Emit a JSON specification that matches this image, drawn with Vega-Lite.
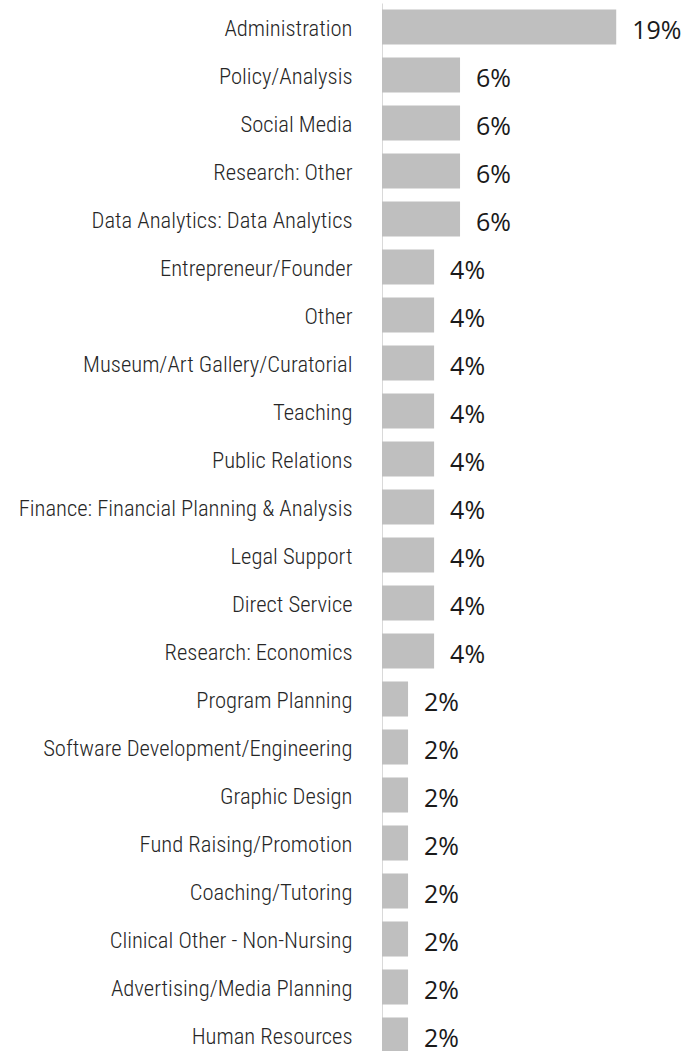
{
  "$schema": "https://vega.github.io/schema/vega-lite/v6.json",
  "autosize": "none",
  "padding": {"left": 382, "top": 3, "right": 0, "bottom": 0},
  "width": 318,
  "height": 1056,
  "background": "white",
  "data": {
    "values": [
      {"role": "Administration", "pct": 19.15, "label": "19%"},
      {"role": "Policy/Analysis", "pct": 6.38, "label": "6%"},
      {"role": "Social Media", "pct": 6.38, "label": "6%"},
      {"role": "Research: Other", "pct": 6.38, "label": "6%"},
      {"role": "Data Analytics: Data Analytics", "pct": 6.38, "label": "6%"},
      {"role": "Entrepreneur/Founder", "pct": 4.26, "label": "4%"},
      {"role": "Other", "pct": 4.26, "label": "4%"},
      {"role": "Museum/Art Gallery/Curatorial", "pct": 4.26, "label": "4%"},
      {"role": "Teaching", "pct": 4.26, "label": "4%"},
      {"role": "Public Relations", "pct": 4.26, "label": "4%"},
      {"role": "Finance: Financial Planning & Analysis", "pct": 4.26, "label": "4%"},
      {"role": "Legal Support", "pct": 4.26, "label": "4%"},
      {"role": "Direct Service", "pct": 4.26, "label": "4%"},
      {"role": "Research: Economics", "pct": 4.26, "label": "4%"},
      {"role": "Program Planning", "pct": 2.13, "label": "2%"},
      {"role": "Software Development/Engineering", "pct": 2.13, "label": "2%"},
      {"role": "Graphic Design", "pct": 2.13, "label": "2%"},
      {"role": "Fund Raising/Promotion", "pct": 2.13, "label": "2%"},
      {"role": "Coaching/Tutoring", "pct": 2.13, "label": "2%"},
      {"role": "Clinical Other - Non-Nursing", "pct": 2.13, "label": "2%"},
      {"role": "Advertising/Media Planning", "pct": 2.13, "label": "2%"},
      {"role": "Human Resources", "pct": 2.13, "label": "2%"}
    ]
  },
  "encoding": {
    "y": {
      "field": "role",
      "type": "nominal",
      "sort": null,
      "scale": {"paddingInner": 0.27, "paddingOuter": 0.135},
      "axis": {
        "title": null,
        "ticks": false,
        "domainColor": "#d9d9d9",
        "domainWidth": 1,
        "labelFont": "Roboto Condensed, DejaVu Sans Condensed, sans-serif",
        "labelFontSize": 22.6,
        "labelFontWeight": 300,
        "labelColor": "#262626",
        "labelPadding": 30,
        "labelBaseline": "alphabetic",
        "labelOffset": 9,
        "labelLimit": 400,
        "grid": false
      }
    },
    "x": {
      "field": "pct",
      "type": "quantitative",
      "scale": {"domain": [0, 26], "nice": false},
      "axis": null
    }
  },
  "layer": [
    {"mark": {"type": "bar", "color": "#bfbfbf"}},
    {
      "mark": {
        "type": "text",
        "align": "left",
        "baseline": "alphabetic",
        "dx": 16,
        "dy": 12,
        "font": "Open Sans",
        "fontSize": 25,
        "color": "#1a1a1a"
      },
      "encoding": {"text": {"field": "label"}}
    }
  ],
  "config": {"view": {"stroke": null}}
}
